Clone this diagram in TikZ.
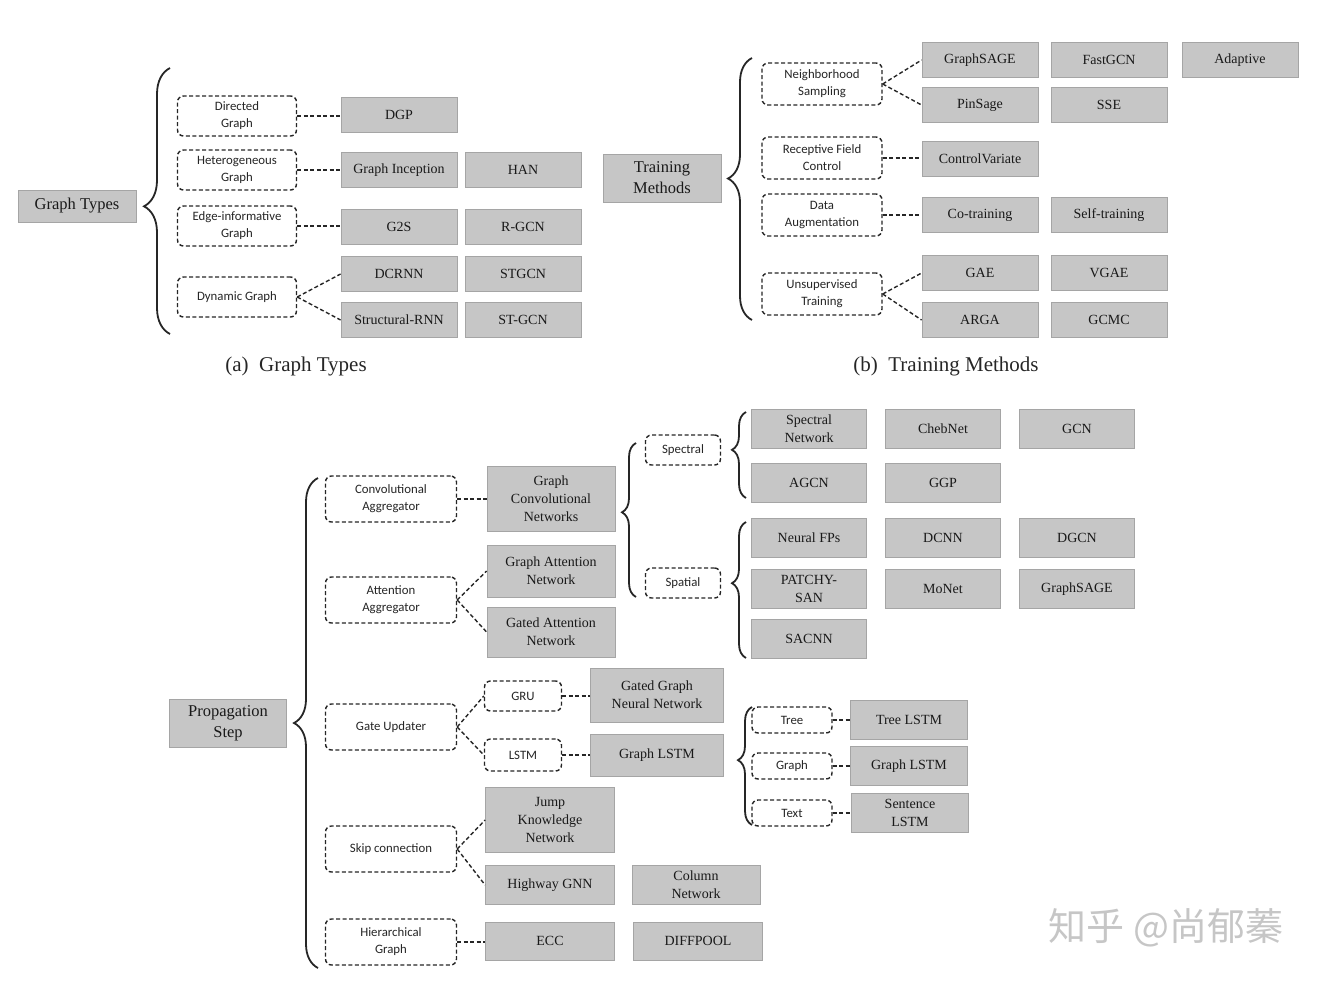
\documentclass[tikz,border=0pt]{standalone}
\usepackage{fontspec}
\setmainfont{Liberation Serif}
\newfontfamily\dashfont{Carlito}
\newfontfamily\cjk{Noto Sans CJK SC}
\usetikzlibrary{decorations.pathreplacing}
\definecolor{boxgray}{RGB}{198,198,198}
\definecolor{boxline}{RGB}{165,165,165}
\definecolor{inkgray}{RGB}{25,25,25}
\begin{document}
\begin{tikzpicture}[x=1pt, y=-1pt,
  gbox/.style={draw=boxline, fill=boxgray, line width=0.8pt, text=inkgray, align=center,
    inner sep=0pt, minimum width=116pt, minimum height=35pt, font=\fontsize{14}{18}\selectfont},
  topbox/.style={gbox, font=\fontsize{16.5}{21}\selectfont},
  dbox/.style={draw=black!85, fill=white, dash pattern=on 4pt off 2.5pt, line width=1.4pt,
    rounded corners=6pt, align=center, inner sep=0pt, text=black!85,
    font=\dashfont\fontsize{12.8}{17}\selectfont},
  link/.style={draw=black!85, dash pattern=on 4pt off 2.5pt, line width=1.4pt},
  curly/.style={draw=black!85, line width=1.8pt, decorate},
  caption/.style={text=black!85, font=\fontsize{21}{24}\selectfont}]
 \useasboundingbox (0,0) rectangle (1338,980);
 % (a) Graph Types
 \node[topbox, minimum width=118pt, minimum height=32pt] (gt) at (77,206) {Graph Types};
 \draw[curly, decoration={brace, amplitude=26pt, aspect=0.48}] (170,334) -- (170,68);
 \begin{scope}[every node/.style={dbox, minimum width=119pt, minimum height=40pt}]
  \node (dg) at (237,116) {Directed\\Graph};
  \node (hg) at (237,170) {Heterogeneous\\Graph};
  \node (eg) at (237,226) {Edge-informative\\Graph};
  \node (dyn) at (237,297) {Dynamic Graph};
 \end{scope}
 \node[gbox] (dgp) at (399,115) {DGP};
 \node[gbox] (gin) at (399,170) {Graph Inception};
 \node[gbox] (han) at (523,170) {HAN};
 \node[gbox] (g2s) at (399,227) {G2S};
 \node[gbox] (rgcn) at (523,227) {R-GCN};
 \node[gbox] (dcrnn) at (399,274) {DCRNN};
 \node[gbox] (stgcn) at (523,274) {STGCN};
 \node[gbox] (srnn) at (399,320) {Structural-RNN};
 \node[gbox] (stgcnb) at (523,320) {ST-GCN};
 \draw[link] (dg.east) -- (dg.east -| dgp.west);
 \draw[link] (hg.east) -- (hg.east -| gin.west);
 \draw[link] (eg.east) -- (eg.east -| g2s.west);
 \draw[link] (dyn.east) -- (dcrnn.west);
 \draw[link] (dyn.east) -- (srnn.west);
 \node[caption] (capa) at (296,366) {(a)~~Graph Types};
 % (b) Training Methods
 \node[topbox, minimum width=118pt, minimum height=48pt] (tm) at (662,178) {Training\\Methods};
 \draw[curly, decoration={brace, amplitude=24pt, aspect=0.54}] (752,320) -- (752,58);
 \begin{scope}[every node/.style={dbox, minimum width=120pt, minimum height=42pt}]
  \node (ns) at (822,84) {Neighborhood\\Sampling};
  \node (rf) at (822,158) {Receptive Field\\Control};
  \node (da) at (822,215) {Data\\Augmentation};
  \node (ut) at (822,294) {Unsupervised\\Training};
 \end{scope}
 \node[gbox] (gsage) at (980,60) {GraphSAGE};
 \node[gbox] (fastgcn) at (1109,60) {FastGCN};
 \node[gbox] (adaptive) at (1240,60) {Adaptive};
 \node[gbox] (pinsage) at (980,105) {PinSage};
 \node[gbox] (sse) at (1109,105) {SSE};
 \node[gbox] (cv) at (980,159) {ControlVariate};
 \node[gbox] (cot) at (980,215) {Co-training};
 \node[gbox] (selft) at (1109,215) {Self-training};
 \node[gbox] (gae) at (980,273) {GAE};
 \node[gbox] (vgae) at (1109,273) {VGAE};
 \node[gbox] (arga) at (980,320) {ARGA};
 \node[gbox] (gcmc) at (1109,320) {GCMC};
 \draw[link] (ns.east) -- (gsage.west);
 \draw[link] (ns.east) -- (pinsage.west);
 \draw[link] (rf.east) -- (rf.east -| cv.west);
 \draw[link] (da.east) -- (da.east -| cot.west);
 \draw[link] (ut.east) -- (gae.west);
 \draw[link] (ut.east) -- (arga.west);
 \node[caption] (capb) at (946,366) {(b)~~Training Methods};
 % (c) Propagation Step
 \node[topbox, minimum width=117pt, minimum height=48pt] (ps) at (228,723) {Propagation\\Step};
 \draw[curly, decoration={brace, amplitude=24pt, aspect=0.5}] (318,968) -- (318,478);
 \begin{scope}[every node/.style={dbox, minimum width=131pt, minimum height=46pt}]
  \node (ca) at (391,499) {Convolutional\\Aggregator};
  \node (aa) at (391,600) {Attention\\Aggregator};
  \node (gu) at (391,727) {Gate Updater};
  \node (sc) at (391,849) {Skip connection};
  \node (hgr) at (391,942) {Hierarchical\\Graph};
 \end{scope}
 \node[gbox, minimum width=128pt, minimum height=65pt] (gcn) at (551,499) {Graph\\Convolutional\\Networks};
 \node[gbox, minimum width=128pt, minimum height=52pt] (gat) at (551,571) {Graph Attention\\Network};
 \node[gbox, minimum width=128pt, minimum height=50pt] (gatn) at (551,632) {Gated Attention\\Network};
 \draw[link] (ca.east) -- (ca.east -| gcn.west);
 \draw[link] (aa.east) -- (gat.west);
 \draw[link] (aa.east) -- (gatn.west);
 % spectral / spatial
 \draw[curly, decoration={brace, amplitude=14pt, aspect=0.55}] (636,597) -- (636,443);
 \node[dbox, minimum width=75pt, minimum height=30pt] (spec) at (683,450) {Spectral};
 \node[dbox, minimum width=75pt, minimum height=30pt] (spat) at (683,583) {Spatial};
 \draw[curly, decoration={brace, amplitude=14pt, aspect=0.56}] (746,498) -- (746,412);
 \draw[curly, decoration={brace, amplitude=14pt, aspect=0.55}] (746,658) -- (746,522);
 \begin{scope}[every node/.style={gbox, minimum width=115pt, minimum height=39pt}]
  \node (specnet) at (809,429) {Spectral\\Network};
  \node (cheb) at (943,429) {ChebNet};
  \node (gcnb) at (1077,429) {GCN};
  \node (agcn) at (809,483) {AGCN};
  \node (ggp) at (943,483) {GGP};
  \node (nfp) at (809,538) {Neural FPs};
  \node (dcnn) at (943,538) {DCNN};
  \node (dgcn) at (1077,538) {DGCN};
  \node (patchy) at (809,589) {PATCHY-\\SAN};
  \node (monet) at (943,589) {MoNet};
  \node (gsageb) at (1077,589) {GraphSAGE};
  \node (sacnn) at (809,639) {SACNN};
 \end{scope}
 % gate updater
 \node[dbox, minimum width=77pt, minimum height=30pt] (gru) at (523,696) {GRU};
 \node[dbox, minimum width=77pt, minimum height=32pt] (lstm) at (523,755) {LSTM};
 \node[gbox, minimum width=133pt, minimum height=54pt] (ggnn) at (657,695) {Gated Graph\\Neural Network};
 \node[gbox, minimum width=133pt, minimum height=42pt] (glstm) at (657,755) {Graph LSTM};
 \draw[link] (gu.east) -- (gru.west);
 \draw[link] (gu.east) -- (lstm.west);
 \draw[link] (gru.east) -- (gru.east -| ggnn.west);
 \draw[link] (lstm.east) -- (lstm.east -| glstm.west);
 \draw[curly, decoration={brace, amplitude=14pt, aspect=0.55}] (752,825) -- (752,707);
 \begin{scope}[every node/.style={dbox, minimum width=80pt, minimum height=26pt}]
  \node (tree) at (792,720) {Tree};
  \node (graph) at (792,766) {Graph};
  \node (txt) at (792,813) {Text};
 \end{scope}
 \node[gbox, minimum width=117pt, minimum height=39pt] (treelstm) at (909,720) {Tree LSTM};
 \node[gbox, minimum width=117pt, minimum height=39pt] (glstmb) at (909,766) {Graph LSTM};
 \node[gbox, minimum width=117pt, minimum height=39pt] (sentlstm) at (910,813) {Sentence\\LSTM};
 \draw[link] (tree.east) -- (tree.east -| treelstm.west);
 \draw[link] (graph.east) -- (graph.east -| glstmb.west);
 \draw[link] (txt.east) -- (txt.east -| sentlstm.west);
 % skip connection, hierarchical graph
 \node[gbox, minimum width=129pt, minimum height=65pt] (jkn) at (550,820) {Jump\\Knowledge\\Network};
 \node[gbox, minimum width=129pt, minimum height=39pt] (hwgnn) at (550,885) {Highway GNN};
 \node[gbox, minimum width=128pt, minimum height=39pt] (colnet) at (696,885) {Column\\Network};
 \node[gbox, minimum width=129pt, minimum height=38pt] (ecc) at (550,941) {ECC};
 \node[gbox, minimum width=129pt, minimum height=38pt] (diffpool) at (698,941) {DIFFPOOL};
 \draw[link] (sc.east) -- (jkn.west);
 \draw[link] (sc.east) -- (hwgnn.west);
 \draw[link] (hgr.east) -- (hgr.east -| ecc.west);
 % watermark
 \node[text=gray!45, font=\cjk\fontsize{38}{40}\selectfont] (wm) at (1166,928) {知乎 @尚郁蓁};
\end{tikzpicture}
\end{document}
